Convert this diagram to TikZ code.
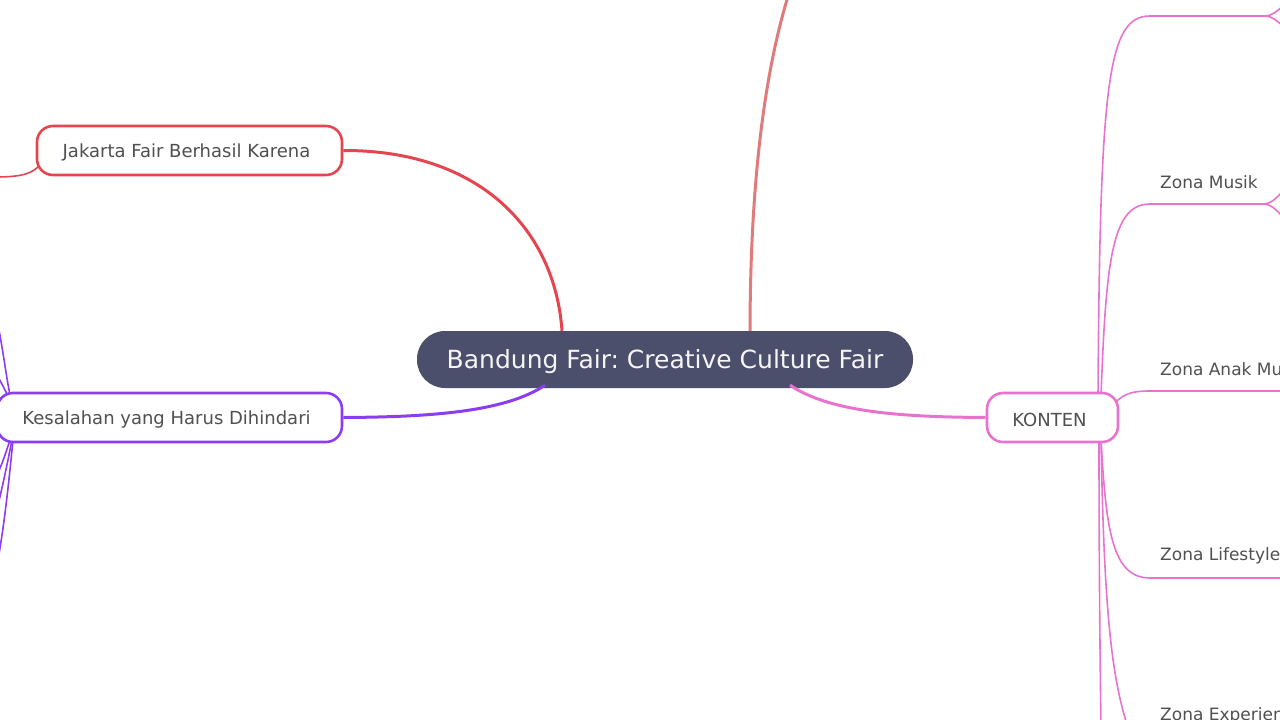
\documentclass[tikz,border=0pt]{standalone}
\usepackage{fontspec}
\setmainfont{DejaVu Sans}
\frenchspacing
\usetikzlibrary{calc}
\definecolor{cfill}{HTML}{4C4F6B}
\definecolor{cred}{HTML}{E5454F}
\definecolor{csalmon}{HTML}{E07B7B}
\definecolor{cpurple}{HTML}{8B3DF2}
\definecolor{cpink}{HTML}{E873CF}
\definecolor{ctext}{HTML}{505050}
\newcommand{\tlab}[1]{\raisebox{-2pt}[\height][\depth]{#1}\kern6pt}
\newcommand{\clab}[1]{\raisebox{-2pt}[\height][\depth]{#1}}
\tikzset{
  topic/.style={draw, line width=2.6pt, fill=white, rounded corners=16pt, text=ctext,
    font=\fontsize{18}{20}\selectfont, minimum height=49pt, inner sep=0pt},
  central/.style={fill=cfill, rounded corners=28pt, text=white!96!black,
    font=\fontsize{25}{28}\selectfont, minimum height=57pt, minimum width=496pt, inner sep=0pt},
  thick link/.style={line width=3pt},
  thin link/.style={line width=1.6pt},
  zlabel/.style={anchor=west, text=ctext, font=\fontsize{17}{20}\selectfont, inner sep=0pt}
}
\begin{document}
\begin{tikzpicture}[x=1pt,y=-1pt]
\useasboundingbox (0,0) rectangle (1280,720);
\clip (0,0) rectangle (1280,720);

% right-side thin pink links (drawn first, under KONTEN)
\coordinate (k1) at (1098,396);
\coordinate (k2) at (1101,396);
\coordinate (k3) at (1099,439);
\coordinate (k4) at (1101,439);
\coordinate (k5) at (1115,403);
\draw[cpink, thin link] (k1) .. controls (1100,80) and (1108,16) .. (1150,16) -- (1264,16);
\draw[cpink, thin link] (1264,16) .. controls (1272,16) and (1276,12) .. (1284,5);
\draw[cpink, thin link] (1264,16) .. controls (1272,16) and (1276,20) .. (1284,27);
\draw[cpink, thin link] (k2) .. controls (1106,260) and (1112,204) .. (1150,204) -- (1262,204);
\draw[cpink, thin link] (1262,204) .. controls (1272,204) and (1276,198) .. (1284,190);
\draw[cpink, thin link] (1262,204) .. controls (1272,204) and (1276,210) .. (1284,218);
\draw[cpink, thin link] (k5) .. controls (1124,393) and (1134,391) .. (1150,391) -- (1285,391);
\draw[cpink, thin link] (k4) .. controls (1106,530) and (1112,578) .. (1150,578) -- (1285,578);
\draw[cpink, thin link] (k4) .. controls (1104,600) and (1110,690) .. (1135,745);
\draw[cpink, thin link] (k3) .. controls (1099,560) and (1100,660) .. (1101,725);

% left thin links
\coordinate (j1) at (42,163);
\coordinate (jend) at (-5,177);
\draw[cred, thin link] (j1) .. controls (33,173) and (25,177) .. (jend);
\coordinate (p1) at (10,395);
\coordinate (p2) at (8,396);
\coordinate (p3) at (10,440);
\coordinate (p4) at (12,440);
\coordinate (p5) at (13,440);
\draw[cpurple, thin link] (p1) .. controls (6,375) and (3,350) .. (-2,325);
\draw[cpurple, thin link] (p2) .. controls (5,390) and (2,384) .. (-3,375);
\draw[cpurple, thin link] (p3) .. controls (6,452) and (3,462) .. (-3,475);
\draw[cpurple, thin link] (p4) .. controls (8,460) and (4,480) .. (-2,505);
\draw[cpurple, thin link] (p5) .. controls (9,480) and (5,520) .. (-2,560);

% salmon link going up off-canvas
\coordinate (s1) at (750,335);
\draw[csalmon, thick link] (s1) .. controls (750,180) and (765,60) .. (795,-25);

% nodes
\node[central] (c) at (665,359.5) {\clab{Bandung Fair: Creative Culture Fair}};
\node[topic, draw=cred, minimum width=305pt] (jak) at (189.5,150.5) {\tlab{Jakarta Fair Berhasil Karena}};
\node[topic, draw=cpurple, minimum width=345pt] (kes) at (169.5,417.5) {\tlab{Kesalahan yang Harus Dihindari}};
\node[topic, draw=cpink, minimum width=131pt] (kon) at (1052.5,417.5) {\tlab{KONTEN}};

% main links
\draw[cred, thick link] ([xshift=-103pt]c.north) .. controls (555,230) and (480,150) .. (jak.east);
\draw[cpurple, thick link] ([xshift=-120pt,yshift=3pt]c.south) .. controls (505,412) and (430,417) .. (kes.east);
\draw[cpink, thick link] ([xshift=125pt,yshift=3pt]c.south) .. controls (830,412) and (900,417) .. (kon.west);

% zone labels
\node[zlabel] (zm) at (1160,182) {Zona Musik};
\node[zlabel] (za) at (1160,369) {Zona Anak Muda};
\node[zlabel] (zl) at (1160,556) {Zona Lifestyle};
\node[zlabel] (ze) at (1160,716) {Zona Experience};
\end{tikzpicture}
\end{document}
